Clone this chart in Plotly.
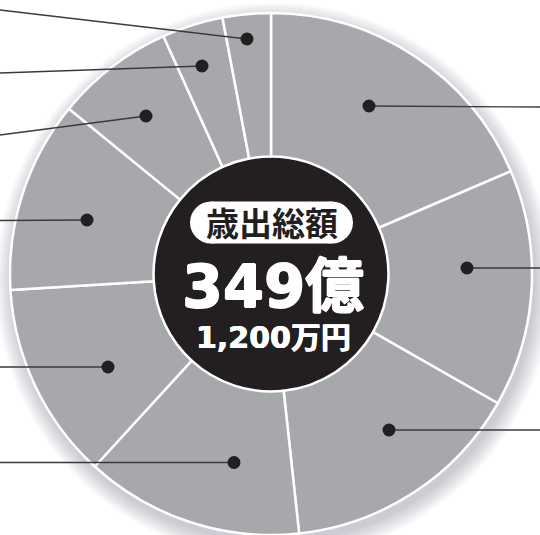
import plotly.graph_objects as go

# ---- data (in 億円) ----
categories = ["費目1", "費目2", "費目3", "費目4", "費目5", "費目6", "費目7", "費目8", "費目9"]
values = [64.8, 51.3, 52.5, 47.2, 42.7, 41.5, 25.6, 13.2, 10.4]
center_title = "歳出総額"
center_total = "349億"
center_sub = "1,200万円"

# ---- layout constants (pixels) ----
W, H = 540, 535
CX, CY, R = 271, 274, 261
HOLE = 0.45
SLICE = "#a7a8ab"
INK = "#231f20"

# leader lines: (edge point, dot point) in pixels, one per slice
leaders = [
    ((540, 107), (369, 106)),
    ((540, 268), (467, 268)),
    ((540, 430), (389, 430)),
    ((0, 462.5), (234, 462.5)),
    ((0, 367), (108, 367)),
    ((0, 220.5), (87, 220)),
    ((0, 135), (146, 116)),
    ((0, 73), (202, 66)),
    ((0, 10), (247, 39)),
]


def px(x):
    return x / W


def py(y):
    return 1 - y / H


fig = go.Figure()
fig.add_trace(go.Pie(
    labels=categories,
    values=values,
    sort=False,
    direction="clockwise",
    rotation=0,
    hole=HOLE,
    marker=dict(colors=[SLICE] * len(values), line=dict(color="white", width=2.5)),
    textinfo="none",
    hoverinfo="label+value",
    showlegend=False,
    domain=dict(x=[(CX - R) / W, (CX + R) / W], y=[(H - CY - R) / H, (H - CY + R) / H]),
))

shapes = []
# soft shadow behind the pie (offset down-right)
for rr in range(R + 1, R + 19, 2):
    shapes.append(dict(type="circle", layer="below", xref="paper", yref="paper",
                       xsizemode="pixel", ysizemode="pixel",
                       xanchor=px(CX + 3), yanchor=py(CY + 7),
                       x0=-rr, x1=rr, y0=-rr, y1=rr,
                       fillcolor="rgba(60,60,95,0.03)", line=dict(width=0)))
# black centre disk (seen through the hole)
shapes.append(dict(type="circle", layer="below", xref="paper", yref="paper",
                   xsizemode="pixel", ysizemode="pixel",
                   xanchor=px(CX), yanchor=py(CY),
                   x0=-119, x1=119, y0=-119, y1=119,
                   fillcolor=INK, line=dict(width=0)))
# white pill behind the title
PCX, PCY, PW, PH = 271.5, 222.5, 163, 42
pr = PH / 2
shapes.append(dict(type="rect", layer="above", xref="paper", yref="paper",
                   xsizemode="pixel", ysizemode="pixel",
                   xanchor=px(PCX), yanchor=py(PCY),
                   x0=-(PW / 2 - pr), x1=(PW / 2 - pr), y0=-pr, y1=pr,
                   fillcolor="white", line=dict(width=0)))
for sx in (-1, 1):
    shapes.append(dict(type="circle", layer="above", xref="paper", yref="paper",
                       xsizemode="pixel", ysizemode="pixel",
                       xanchor=px(PCX + sx * (PW / 2 - pr)), yanchor=py(PCY),
                       x0=-pr, x1=pr, y0=-pr, y1=pr,
                       fillcolor="white", line=dict(width=0)))
# leader lines and dots
for (ex, ey), (dx, dy) in leaders:
    shapes.append(dict(type="line", layer="above", xref="paper", yref="paper",
                       x0=px(ex), y0=py(ey), x1=px(dx), y1=py(dy),
                       line=dict(color="#3a3a3a", width=1.3)))
for _, (dx, dy) in leaders:
    shapes.append(dict(type="circle", layer="above", xref="paper", yref="paper",
                       xsizemode="pixel", ysizemode="pixel",
                       xanchor=px(dx), yanchor=py(dy),
                       x0=-6.5, x1=6.5, y0=-6.5, y1=6.5,
                       fillcolor=INK, line=dict(width=0)))

thick = "0.8px 0 0 white, -0.8px 0 0 white, 0 0.8px 0 white, 0 -0.8px 0 white"
annotations = [
    dict(text=center_title, x=px(271.5), y=py(222), xref="paper", yref="paper",
         xanchor="center", yanchor="middle", showarrow=False,
         font=dict(family="Noto Sans CJK JP", size=33, color=INK, weight="bold")),
    dict(text=center_total, x=px(272.5), y=py(286), xref="paper", yref="paper",
         xanchor="center", yanchor="middle", showarrow=False,
         font=dict(family="DejaVu Sans, Noto Sans CJK JP", size=59, color="white",
                   weight="bold", shadow=thick)),
    dict(text=center_sub, x=px(273), y=py(337), xref="paper", yref="paper",
         xanchor="center", yanchor="middle", showarrow=False,
         font=dict(family="DejaVu Sans, Noto Sans CJK JP", size=30, color="white",
                   weight="bold", shadow="0.4px 0 0 white, -0.4px 0 0 white")),
]

fig.update_layout(
    width=W, height=H,
    margin=dict(l=0, r=0, t=0, b=0),
    paper_bgcolor="white",
    plot_bgcolor="white",
    shapes=shapes,
    annotations=annotations,
    showlegend=False,
)

fig.write_html(
    "out.html",
    config={"displayModeBar": False},
    post_script="document.body.style.margin='0';document.body.style.overflow='hidden';",
)
